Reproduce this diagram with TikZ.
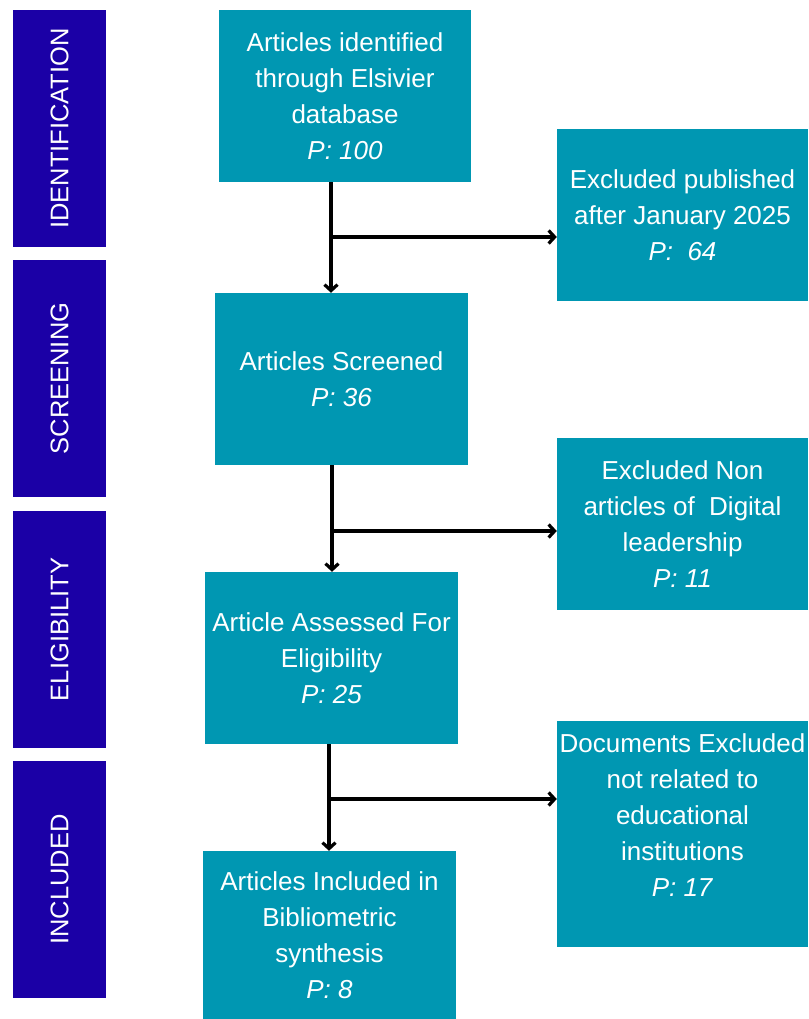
\documentclass[tikz,border=0pt]{standalone}
\usepackage{fontspec}
\setmainfont{Liberation Sans}
\usetikzlibrary{arrows.meta}
\definecolor{stagecol}{HTML}{1B00A6}
\definecolor{boxcol}{HTML}{0097B2}
\begin{document}
\begin{tikzpicture}[x=1pt,y=-1pt,
  stage/.style={rotate=90,fill=stagecol,text=white,inner sep=0pt,
    minimum width=237pt,minimum height=93pt,font=\fontsize{25.5}{30}\selectfont},
  stepbox/.style={fill=boxcol,text=white,inner sep=2pt,align=center,
    minimum height=172pt,font=\fontsize{26}{36}\selectfont},
  flow/.style={line width=3.2pt,-{Straight Barb[length=6pt,width=13pt]}}]
\useasboundingbox (0,0) rectangle (808,1019);

% Stage bars
\node[stage] (sid) at (59.5,128.5) {IDENTIFICATION};
\node[stage] (ssc) at (59.5,378.5) {SCREENING};
\node[stage] (sel) at (59.5,629.5) {ELIGIBILITY};
\node[stage] (sin) at (59.5,879.5) {INCLUDED};

% Main boxes
\node[stepbox,minimum width=252pt] (ident) at (345,96)
  {Articles identified\\through Elsivier\\database\\\textit{P: 100}};
\node[stepbox,minimum width=253pt] (screen) at (341.5,379)
  {Articles Screened\\\textit{P: 36}};
\node[stepbox,minimum width=253pt] (assess) at (331.5,658)
  {Article Assessed For\\Eligibility\\\textit{P: 25}};
\node[stepbox,minimum width=253pt,minimum height=168pt] (incl) at (329.5,935)
  {Articles Included in\\Bibliometric\\synthesis\\\textit{P: 8}};

% Exclusion boxes
\node[stepbox,minimum width=251pt] (excla) at (682.5,215)
  {Excluded published\\after January 2025\\\textit{P:\ \ 64}};
\node[stepbox,minimum width=251pt] (exclb) at (682.5,524)
  {Excluded Non\\articles of\ \ Digital\\leadership\\\textit{P: 11}};
\node[stepbox,minimum width=251pt,minimum height=226pt] (exclc) at (682.5,834)
  {Documents Excluded\\not related to\\educational\\institutions\\\textit{P: 17}\\[-8pt]\strut};

% Junctions
\coordinate (ja) at (331,237);
\coordinate (jb) at (332,531);
\coordinate (jc) at (329,799);

% Arrows
\draw[flow] (ja |- ident.south) -- (ja |- screen.north);
\draw[flow] (ja) -- (ja -| excla.west);
\draw[flow] (jb |- screen.south) -- (jb |- assess.north);
\draw[flow] (jb) -- (jb -| exclb.west);
\draw[flow] (jc |- assess.south) -- (jc |- incl.north);
\draw[flow] (jc) -- (jc -| exclc.west);
\end{tikzpicture}
\end{document}
